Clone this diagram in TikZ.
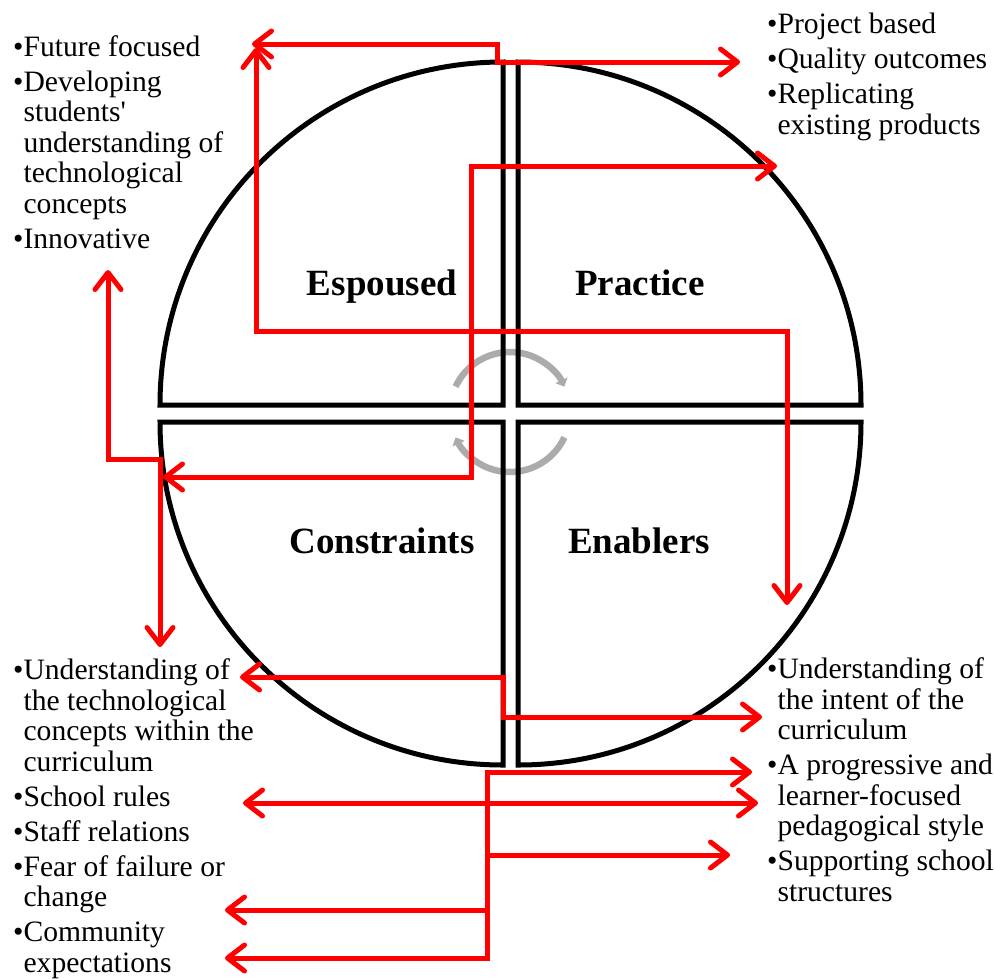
\documentclass[tikz,border=0pt]{standalone}
\usepackage{fontspec}
\setmainfont{Liberation Serif}[Ligatures=TeXOff]
\usetikzlibrary{arrows.meta,calc}
\begin{document}
\begin{tikzpicture}[x=1pt,y=1pt,
  quad/.style={draw=black,line width=5pt,line join=miter},
  conn/.style={draw=red,line width=5pt,line join=miter},
  >={Straight Barb[length=17pt,width=26pt,round]},
  garrow/.style={draw=black!33,line width=6.5pt,-{Triangle[length=7pt,width=13pt]}},
  head/.style={font=\fontsize{37}{40}\selectfont\bfseries,inner sep=0pt,anchor=base},
  blist/.style={font=\fontsize{29.6}{30.5}\selectfont,align=left,inner sep=0pt,anchor=base west}]
\useasboundingbox (0,0) rectangle (995,-978);

% centre of the cycle arrows
\coordinate (cc) at (510,-412);
\draw[garrow] ($(cc)+(155:60)$) arc[start angle=155,end angle=25,radius=60];
\draw[garrow] ($(cc)+(-25:60)$) arc[start angle=-25,end angle=-155,radius=60];

% quadrants
\coordinate (ctl) at (503,-405);
\coordinate (ctr) at (518,-405);
\coordinate (cbl) at (503,-422);
\coordinate (cbr) at (518,-422);
\draw[quad] (ctl) -- ++(-343,0) arc[start angle=180,end angle=90,radius=343] -- cycle;
\draw[quad] (ctr) -- ++(0,343) arc[start angle=90,end angle=0,radius=343] -- cycle;
\draw[quad] (cbl) -- ++(-343,0) arc[start angle=180,end angle=270,radius=343] -- cycle;
\draw[quad] (cbr) -- ++(343,0) arc[start angle=0,end angle=-90,radius=343] -- cycle;

% quadrant labels
\node[head] (esp) at (382,-295) {Espoused};
\node[head] (pra) at (640,-295) {Practice};
\node[head] (con) at (382,-553) {Constraints};
\node[head] (ena) at (639,-553) {Enablers};

% lists (anchored at the baseline of their last line)
\node[blist] (tl) at (13,-248) {•Future focused\\[4.5pt]
•Developing\\ \phantom{•}students'\\ \phantom{•}understanding of\\ \phantom{•}technological\\ \phantom{•}concepts\\[4.5pt]
•Innovative};
\node[blist] (tr) at (767,-134) {•Project based\\[4.5pt]
•Quality outcomes\\[4.5pt]
•Replicating\\ \phantom{•}existing products};
\node[blist] (bl) at (13,-972) {•Understanding of\\ \phantom{•}the technological\\ \phantom{•}concepts within the\\ \phantom{•}curriculum\\[4.5pt]
•School rules\\[4.5pt]
•Staff relations\\[4.5pt]
•Fear of failure or\\ \phantom{•}change\\[4.5pt]
•Community\\ \phantom{•}expectations};
\node[blist] (br) at (767,-901) {•Understanding of\\ \phantom{•}the intent of the\\ \phantom{•}curriculum\\[4.5pt]
•A progressive and\\ \phantom{•}learner-focused\\ \phantom{•}pedagogical style\\[4.5pt]
•Supporting school\\ \phantom{•}structures};

% connector end points and bends
\coordinate (a1) at (252,-44);  \coordinate (m1) at (497,-53);  \coordinate (b1) at (740,-62);
\coordinate (a2) at (256,-48);  \coordinate (m2) at (520,-331); \coordinate (b2) at (787,-605);
\coordinate (a3) at (777,-166); \coordinate (m3) at (471,-300); \coordinate (b3) at (163,-477);
\coordinate (a4) at (108,-270); \coordinate (m4) at (130,-459); \coordinate (b4) at (160,-647);
\coordinate (a5) at (240,-677); \coordinate (m5) at (503,-697); \coordinate (b5) at (762,-717);
\coordinate (c1) at (752,-772); \coordinate (t2) at (487,-958); \coordinate (c5) at (225,-958);
\coordinate (c2l) at (243,-803); \coordinate (c2r) at (758,-803);
\coordinate (t3) at (487,-855); \coordinate (c3) at (730,-855);
\coordinate (t4) at (487,-910); \coordinate (c4) at (225,-910);

\draw[conn,<->] (a1) -| (m1) |- (b1);
\draw[conn,<->] (a2) |- (m2) -| (b2);
\draw[conn,<->] (a3) -| (m3) |- (b3);
\draw[conn,<->] (a4) |- (m4) -| (b4);
\draw[conn,<->] (a5) -| (m5) |- (b5);
\draw[conn,<->] (c1) -| (t2) -- (c5);
\draw[conn,<->] (c2l) -- (c2r);
\draw[conn,->] (t3) -- (c3);
\draw[conn,->] (t4) -- (c4);
\end{tikzpicture}
\end{document}
